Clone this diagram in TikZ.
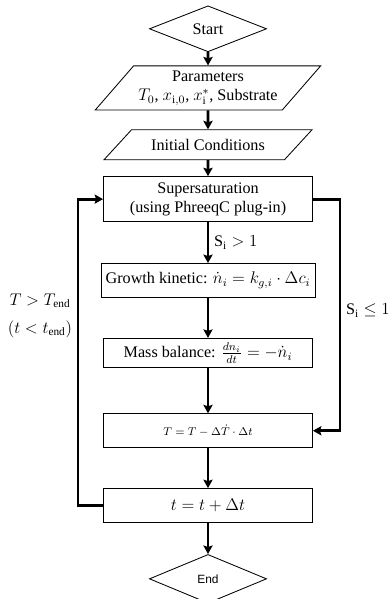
\documentclass[tikz,border=0pt]{standalone}
\usepackage{fontspec}
\setmainfont{Liberation Serif}
\newfontfamily\endfont{Liberation Sans}
\usepackage{tikz}
\usetikzlibrary{shapes,arrows.meta,positioning}

\begin{document}
\begin{tikzpicture}[
    auto,
    node distance=1cm,
    font=\fontsize{11.5}{13.8}\selectfont,
    process/.style={
        rectangle,
        draw,
        line width=0.6pt,
        text centered,
        minimum height=0.85cm,
        minimum width=5.225cm
    },
    io/.style={
        trapezium,
        draw,
        line width=0.6pt,
        text centered,
        trapezium stretches body=true,
        minimum width=5.2cm
    },
    decision/.style={
        diamond,
        draw,
        line width=0.6pt,
        aspect=2.6,
        inner sep=0pt,
        minimum width=2.93cm,
        minimum height=1.15cm
    },
    arrow/.style={->, >={Stealth[length=6pt,width=6.5pt,inset=1pt]},
        line width=2pt}
]
    \useasboundingbox (0,0) rectangle (9.725,-14.975);

    \node[decision] (start) at (5.2,-0.72) {Start};
    \node[io, below=0.33cm of start, minimum height=1.1cm,
        trapezium left angle=49, trapezium right angle=131,
        align=center] (params)
        {Parameters\\$T_0$, $x_{\mathrm{i},0}$, $x_{\mathrm{i}}^{*}$, Substrate};
    \node[io, below=0.475cm of params, minimum height=0.75cm,
        trapezium left angle=37, trapezium right angle=143] (init)
        {Initial Conditions};
    \node[process, below=0.4cm of init, minimum height=1.125cm,
        align=center] (sat)
        {Supersaturation\\(using PhreeqC plug-in)};
    \node[process, below=1.025cm of sat] (growth)
        {Growth kinetic: $\dot{n}_i = k_{g,i}\cdot\Delta c_i$};
    \node[process, below=of growth, minimum height=0.74cm,
        inner ysep=1pt] (mass)
        {Mass balance: $\frac{dn_i}{dt} = -\dot{n}_i$};
    \node[process, below=1.125cm of mass,
        font=\fontsize{8.5}{10.5}\selectfont] (tupdate)
        {$T = T - \Delta\dot{T}\cdot\Delta t$};
    \node[process, below=of tupdate] (tstep)
        {$t = t + \Delta t$};
    \node[decision, below=0.775cm of tstep, minimum height=1.22cm,
        font=\endfont\fontsize{8.5}{10}\selectfont] (stop) {End};

    \draw[arrow] (start) -- (params);
    \draw[arrow] (params) -- (init);
    \draw[arrow] (init) -- (sat);
    \draw[arrow] (sat) -- node[right] {$\mathrm{S_i} > 1$} (growth);
    \draw[arrow] (growth) -- (mass);
    \draw[arrow] (mass) -- (tupdate);
    \draw[arrow] (tupdate) -- (tstep);
    \draw[arrow] (tstep) -- (stop);
    \draw[arrow] (tstep.west) -- ++(-0.625,0)
        |- node[pos=0.31, left, align=center]
        {$T > T_{\mathrm{end}}$\\[6pt]$(t < t_{\mathrm{end}})$} (sat.west);
    \draw[arrow] (sat.east) -- ++(0.675,0)
        |- node[pos=0.24, right] {$\mathrm{S_i} \le 1$} (tupdate.east);
\end{tikzpicture}
\end{document}
